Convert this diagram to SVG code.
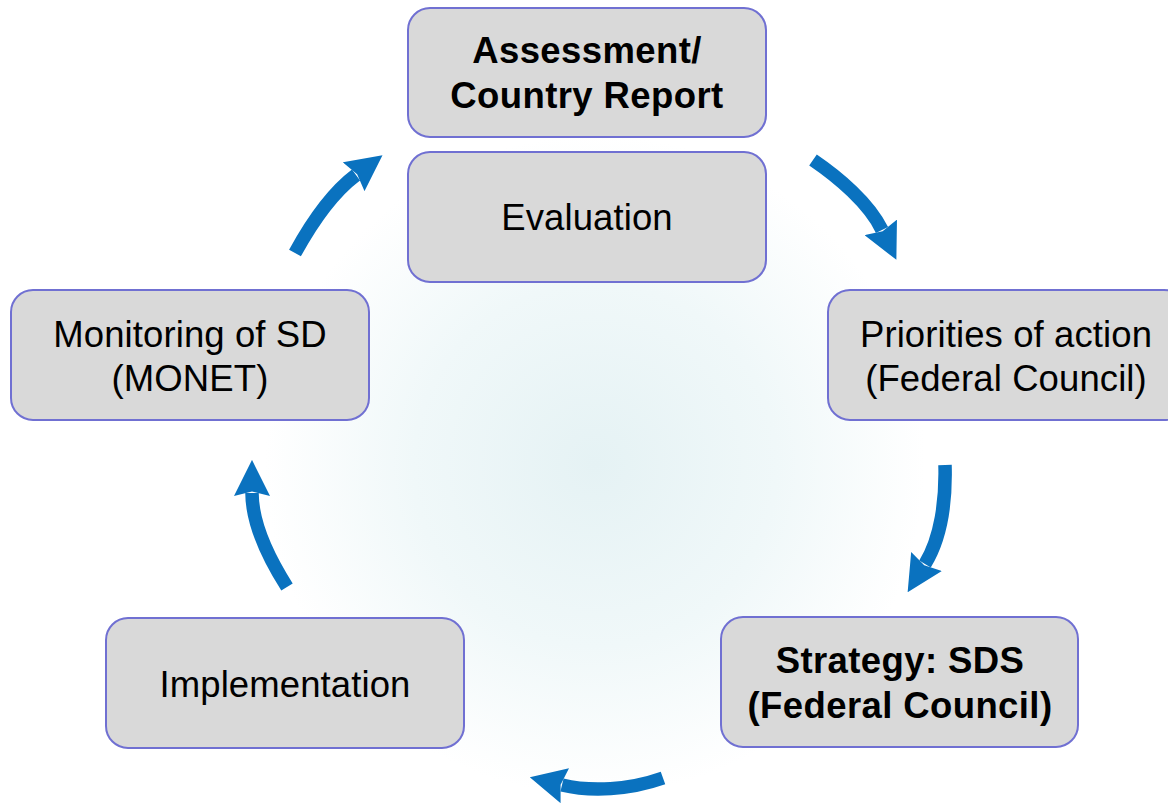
<svg xmlns="http://www.w3.org/2000/svg" width="1168" height="803" viewBox="0 0 1168 803">
<style>
.box{fill:#d9d9d9;stroke:#7070d2;stroke-width:2}
.t{font-family:"Liberation Sans",Arial,sans-serif;font-size:36.5px;letter-spacing:0.1px;fill:#000;text-anchor:middle}
.b{font-weight:bold;font-size:36.5px;letter-spacing:0.4px}
.arr{fill:none;stroke:#0a72bf;stroke-width:13.5;stroke-linecap:butt;marker-end:url(#head)}
</style>
<defs>
<radialGradient id="bg" cx="595" cy="465" r="330" gradientUnits="userSpaceOnUse">
<stop offset="0" stop-color="#e5f2f4"/>
<stop offset="0.55" stop-color="#f0f8f9"/>
<stop offset="1" stop-color="#ffffff"/>
</radialGradient>
<marker id="head" markerUnits="userSpaceOnUse" markerWidth="36" markerHeight="36" viewBox="0 0 10 10" refX="0.8" refY="5" orient="auto">
<path d="M0,0 L10,5 L0,10 L1.2,5 Z" fill="#0a72bf"/>
</marker>
</defs>
<rect width="1168" height="803" fill="#fff"/>
<circle cx="595" cy="465" r="330" fill="url(#bg)"/>
<g id="connectors">
<path class="arr" d="M295,253 C312,222 332,193 356,175"/>
<path class="arr" d="M813,160 C838,177 869,203 882,230"/>
<path class="arr" d="M945,465 C946,500 941,538 925,564"/>
<path class="arr" d="M663,778 C629,790 591,792 562,785"/>
<path class="arr" d="M287,587 C268,557 252,523 252,493"/>
</g>
<g id="assessment">
<rect class="box" x="408" y="8" width="358" height="129" rx="22"/>
<text class="t b" x="587" y="63">Assessment/</text>
<text class="t b" x="587" y="108">Country Report</text>
</g>
<g id="evaluation">
<rect class="box" x="408" y="152" width="358" height="130" rx="22"/>
<text class="t" x="587" y="230">Evaluation</text>
</g>
<g id="monitoring">
<rect class="box" x="11" y="290" width="358" height="130" rx="22"/>
<text class="t" x="190" y="347">Monitoring of SD</text>
<text class="t" x="190" y="391">(MONET)</text>
</g>
<g id="priorities">
<rect class="box" x="828" y="290" width="358" height="130" rx="22"/>
<text class="t" x="1006" y="347">Priorities of action</text>
<text class="t" x="1006" y="391">(Federal Council)</text>
</g>
<g id="strategy">
<rect class="box" x="721" y="617" width="357" height="130" rx="22"/>
<text class="t b" x="900" y="673">Strategy: SDS</text>
<text class="t b" x="900" y="718">(Federal Council)</text>
</g>
<g id="implementation">
<rect class="box" x="106" y="618" width="358" height="130" rx="22"/>
<text class="t" x="285" y="697">Implementation</text>
</g>
</svg>
